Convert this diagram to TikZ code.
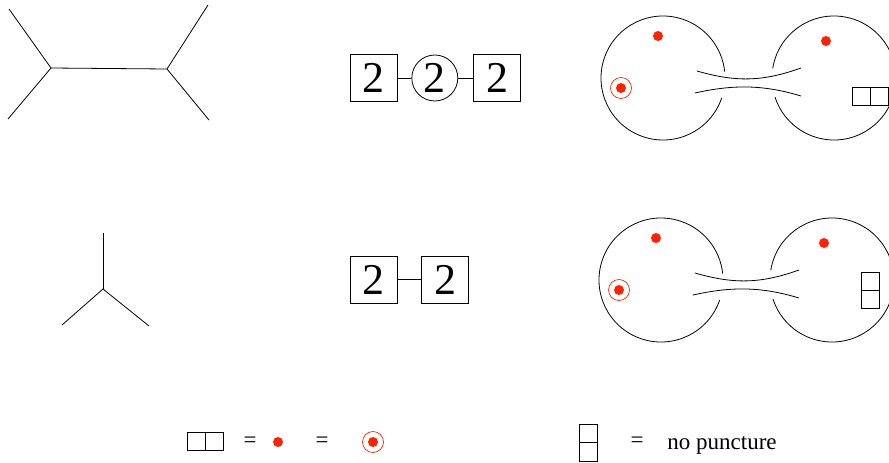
\documentclass[tikz,border=0pt]{standalone}
\usepackage{fontspec}
\setmainfont{Liberation Serif}
\usepackage{tikz}
\usetikzlibrary{positioning}
\definecolor{pRed}{HTML}{FF2200}

\tikzset{
  qbox/.style={draw, rectangle, minimum size=47pt, inner sep=0pt, font=\fontsize{44}{44}\selectfont},
  qcirc/.style={draw, circle, minimum size=46pt, inner sep=0pt, font=\fontsize{44}{44}\selectfont},
  lbl/.style={font=\fontsize{23}{23}\selectfont, inner sep=0pt},
}
\def\pdot#1{\fill[pRed] #1 circle[radius=5];}
\def\pring#1{\fill[pRed] #1 circle[radius=5]; \draw[pRed, line width=0.7pt] #1 circle[radius=10.5];}

\begin{document}
\begin{tikzpicture}[x=1pt, y=-1pt, line width=0.8pt]
  \useasboundingbox (0,0) rectangle (889,463);
  % trees
  \coordinate (ja) at (51,68);
  \coordinate (jb) at (167,69);
  \coordinate (ea) at (9,9);
  \coordinate (eb) at (8,119);
  \coordinate (ec) at (208,5);
  \coordinate (ed) at (209,120);
  \draw (ea) -- (ja) -- (eb);
  \draw (ja) -- (jb);
  \draw (ec) -- (jb) -- (ed);
  \coordinate (jc) at (103,289);
  \coordinate (ee) at (103,233);
  \coordinate (ef) at (62,325);
  \coordinate (eg) at (149,326);
  \draw (ee) -- (jc);
  \draw (ef) -- (jc) -- (eg);
  % quivers
  \node[qbox] (qa) at (373.5,78) {2};
  \node[qcirc, right=14pt of qa] (qb) {2};
  \node[qbox, right=15pt of qb] (qc) {2};
  \draw (qa) -- (qb) -- (qc);
  \node[qbox] (qd) at (373.5,279.5) {2};
  \node[qbox, right=24pt of qd] (qe) {2};
  \draw (qd) -- (qe);
  % surfaces
  \foreach \dx/\dy in {0/0, -2/202} {
    \begin{scope}[shift={(\dx,\dy)}]
      \draw (663,78) ++(19:62) arc[start angle=19, end angle=354, radius=62];
      \draw (834,78) ++(189:62) arc[start angle=189, end angle=522, radius=62];
      \draw (697,71) .. controls (735,82) and (762,82) .. (801,68);
      \draw (695,93) .. controls (733,84.5) and (763,84.5) .. (801,96);
      \pdot{(658,36)}
      \pdot{(826,41)}
      \pring{(621,88)}
    \end{scope}
  }
  \draw (852,87) rectangle (888,105);
  \draw (870,87) -- (870,105);
  \draw (861,272) rectangle (879,308);
  \draw (861,290) -- (879,290);
  % legend
  \draw (187,432) rectangle (223,450);
  \draw (205,432) -- (205,450);
  \node[lbl] (eqa) at (250,442) {=};
  \pdot{(278,442)}
  \node[lbl] (eqb) at (322,442) {=};
  \pring{(373,442)}
  \draw (579,424) rectangle (597,461);
  \draw (579,442.5) -- (597,442.5);
  \node[lbl] (eqc) at (637,442) {=};
  \node[lbl, anchor=base west] (np) at (667,449) {no puncture};
\end{tikzpicture}
\end{document}
